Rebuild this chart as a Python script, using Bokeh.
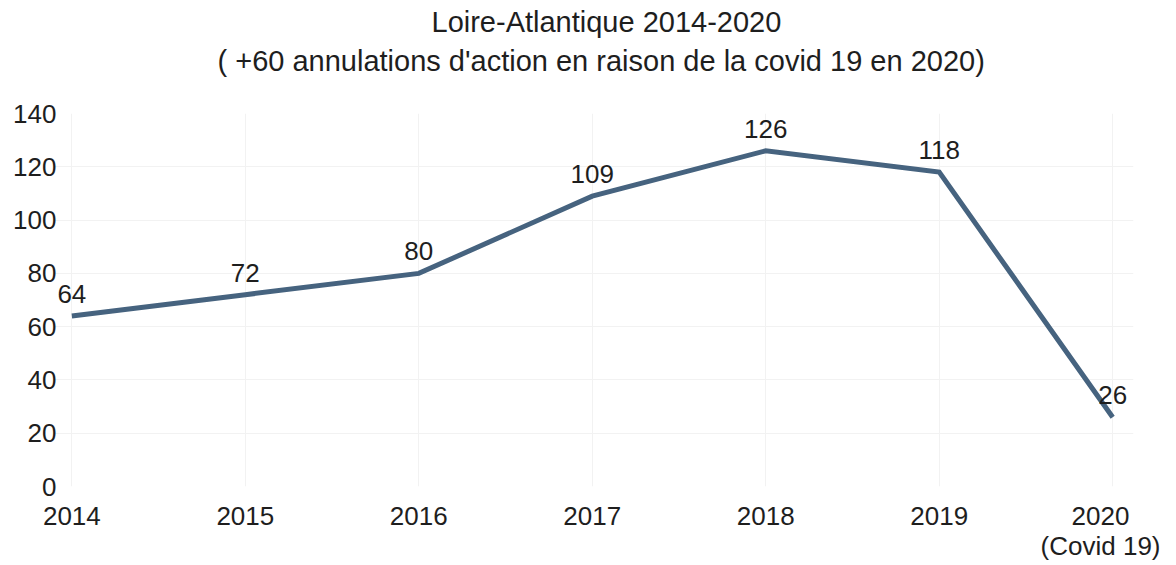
from bokeh.plotting import figure
from bokeh.models import FixedTicker, Label, Range1d, Title
from bokeh.embed import file_html
from bokeh.resources import INLINE

years = ["2014", "2015", "2016", "2017", "2018", "2019", "2020\n(Covid 19)"]
values = [64, 72, 80, 109, 126, 118, 26]
y_ticks = [0, 20, 40, 60, 80, 100, 120, 140]
title_line1 = "Loire-Atlantique 2014-2020"
title_line2 = "( +60 annulations d'action en raison de la covid 19 en 2020)"

FONT = "Liberation Sans"
TXT = "#1e1e1e"

xs = list(range(len(years)))

p = figure(width=1160, height=564, output_backend="svg", toolbar_location=None,
           x_range=Range1d(-0.1, len(years) - 1 + 0.12), y_range=Range1d(0, 140),
           min_border_left=54, min_border_right=27, min_border_top=113, min_border_bottom=78)

p.title.visible = False
t2 = Title(text=title_line2, align="left", text_font=FONT, text_font_size="29px",
           text_font_style="normal", text_color=TXT, standoff=73, offset=163)
t1 = Title(text=title_line1, align="left", text_font=FONT, text_font_size="29px",
           text_font_style="normal", text_color=TXT, standoff=-63, offset=377)
p.add_layout(t2, "above")
p.add_layout(t1, "above")

p.line(xs, values, line_color="#46637f", line_width=5, line_join="miter")

for x, v in zip(xs, values):
    p.add_layout(Label(x=x, y=v, text=str(v), y_offset=13,
                       text_align="center", text_baseline="bottom",
                       text_font=FONT, text_font_size="26px", text_color=TXT))

p.xaxis.ticker = FixedTicker(ticks=xs)
p.xaxis.major_label_overrides = {i: t for i, t in enumerate(years)}
p.yaxis.ticker = FixedTicker(ticks=y_ticks)
for ax in (p.xaxis[0], p.yaxis[0]):
    ax.axis_line_color = None
    ax.major_tick_line_color = None
    ax.minor_tick_line_color = None
    ax.major_tick_out = 0
    ax.major_tick_in = 0
    ax.minor_tick_out = 0
    ax.minor_tick_in = 0
    ax.major_label_text_font = FONT
    ax.major_label_text_font_size = "26px"
    ax.major_label_text_color = TXT
    ax.major_label_text_line_height = 1.0
p.xaxis.major_label_standoff = 14
p.yaxis.major_label_standoff = -2

p.xgrid.grid_line_color = "#f2f2f2"
p.ygrid.grid_line_color = "#f2f2f2"
p.outline_line_color = None
p.background_fill_color = "white"
p.border_fill_color = "white"

open("out.html", "w").write(file_html(p, INLINE))
